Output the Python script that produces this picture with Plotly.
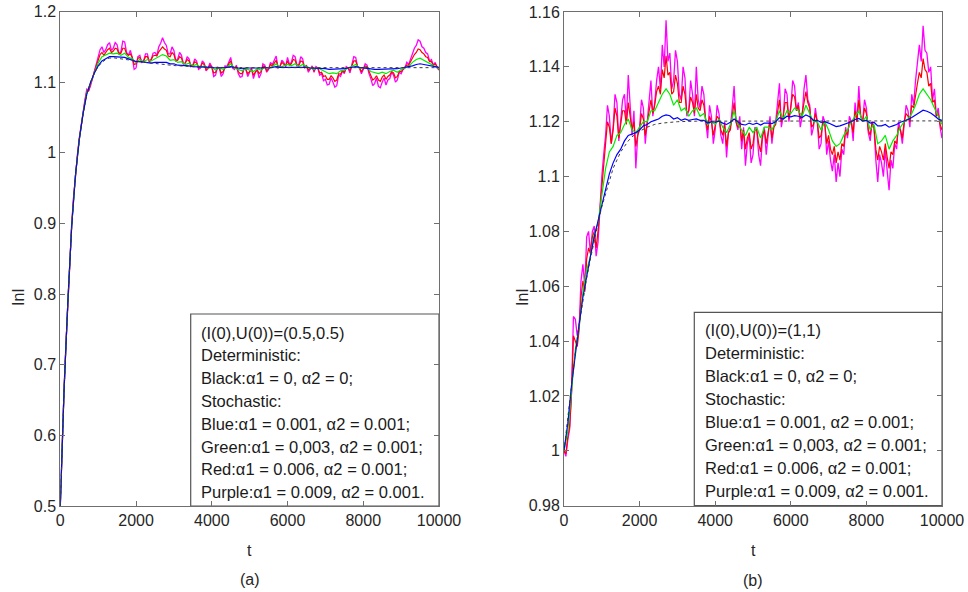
import plotly.graph_objects as go

# ---------------- data ----------------
t_grid = list(range(0, 10001, 100))     # green / blue samples
t_fine = list(range(0, 10001, 50))      # purple / red samples (noisier)

# Panel (a): (I(0),U(0)) = (0.5,0.5)
a_black_t = [0, 100, 200, 300, 400, 500, 600, 700, 800, 900, 1000, 1100, 1200, 1300, 1400,
             1600, 1800, 2000, 2500, 3000, 3500, 4000, 5000, 10000]
a_black = [0.5, 0.665, 0.79, 0.895, 0.968, 1.018, 1.055, 1.082, 1.1, 1.113, 1.122, 1.128, 1.132, 1.134, 1.1345,
           1.1335, 1.1315, 1.1295, 1.126, 1.1235, 1.122, 1.121, 1.1205, 1.1205]

a_purple = [0.5, 0.59, 0.667, 0.73, 0.792, 0.846, 0.898, 0.937, 0.97, 0.996, 1.02, 1.04, 1.058, 1.075, 1.09, 1.088, 1.095, 1.105, 1.115, 1.128,
            1.135, 1.146, 1.15, 1.142, 1.146, 1.153, 1.156, 1.145, 1.148, 1.156, 1.153, 1.14, 1.143, 1.158, 1.157, 1.142, 1.138, 1.145, 1.135, 1.118,
            1.12, 1.136, 1.138, 1.128, 1.13, 1.14, 1.14, 1.128, 1.132, 1.141, 1.142, 1.138, 1.15, 1.155, 1.163, 1.156, 1.152, 1.14, 1.14, 1.15,
            1.145, 1.13, 1.133, 1.142, 1.138, 1.126, 1.127, 1.136, 1.133, 1.122, 1.124, 1.133, 1.13, 1.118, 1.12, 1.13, 1.127, 1.116, 1.119, 1.127,
            1.122, 1.108, 1.11, 1.121, 1.12, 1.108, 1.112, 1.123, 1.122, 1.13, 1.135, 1.12, 1.118, 1.124, 1.112, 1.107, 1.108, 1.12, 1.118, 1.108,
            1.113, 1.12, 1.105, 1.114, 1.117, 1.106, 1.112, 1.126, 1.124, 1.114, 1.118, 1.128, 1.125, 1.132, 1.137, 1.12, 1.122, 1.131, 1.128, 1.122,
            1.135, 1.125, 1.128, 1.138, 1.136, 1.124, 1.125, 1.136, 1.133, 1.12, 1.124, 1.114, 1.118, 1.123, 1.114, 1.122, 1.12, 1.11, 1.112, 1.102,
            1.104, 1.096, 1.097, 1.106, 1.1, 1.093, 1.095, 1.11, 1.108, 1.116, 1.112, 1.122, 1.12, 1.113, 1.125, 1.136, 1.135, 1.122, 1.12, 1.112,
            1.118, 1.126, 1.124, 1.112, 1.105, 1.095, 1.098, 1.106, 1.094, 1.092, 1.1, 1.106, 1.096, 1.103, 1.105, 1.114, 1.11, 1.1, 1.103, 1.114,
            1.112, 1.118, 1.12, 1.128, 1.125, 1.133, 1.142, 1.148, 1.152, 1.16, 1.158, 1.15, 1.148, 1.142, 1.14, 1.13, 1.132, 1.124, 1.128, 1.12,
            1.117]
a_red = [0.5, 0.59, 0.666, 0.73, 0.791, 0.846, 0.897, 0.936, 0.969, 0.995, 1.019, 1.039, 1.057, 1.073, 1.087, 1.088, 1.098, 1.105, 1.115, 1.124,
         1.131, 1.139, 1.142, 1.138, 1.142, 1.146, 1.148, 1.142, 1.144, 1.148, 1.147, 1.14, 1.141, 1.148, 1.148, 1.14, 1.138, 1.14, 1.135, 1.125,
         1.126, 1.134, 1.135, 1.129, 1.13, 1.136, 1.136, 1.13, 1.132, 1.137, 1.138, 1.137, 1.143, 1.146, 1.15, 1.147, 1.145, 1.137, 1.136, 1.142,
         1.139, 1.13, 1.131, 1.136, 1.134, 1.126, 1.127, 1.132, 1.13, 1.123, 1.124, 1.129, 1.127, 1.12, 1.121, 1.127, 1.125, 1.118, 1.12, 1.124,
         1.121, 1.113, 1.114, 1.12, 1.12, 1.113, 1.115, 1.121, 1.121, 1.126, 1.13, 1.121, 1.12, 1.122, 1.115, 1.112, 1.112, 1.119, 1.118, 1.112,
         1.115, 1.118, 1.11, 1.115, 1.118, 1.112, 1.115, 1.123, 1.122, 1.116, 1.119, 1.125, 1.123, 1.127, 1.131, 1.121, 1.122, 1.128, 1.126, 1.123,
         1.13, 1.124, 1.126, 1.132, 1.131, 1.123, 1.124, 1.13, 1.129, 1.12, 1.123, 1.117, 1.119, 1.121, 1.116, 1.12, 1.12, 1.113, 1.114, 1.108,
         1.109, 1.104, 1.104, 1.109, 1.106, 1.101, 1.103, 1.112, 1.111, 1.116, 1.114, 1.12, 1.12, 1.116, 1.123, 1.13, 1.13, 1.122, 1.12, 1.115,
         1.119, 1.123, 1.122, 1.115, 1.109, 1.103, 1.105, 1.109, 1.103, 1.101, 1.107, 1.11, 1.104, 1.108, 1.11, 1.115, 1.113, 1.106, 1.108, 1.115,
         1.115, 1.118, 1.12, 1.124, 1.124, 1.129, 1.135, 1.139, 1.142, 1.147, 1.146, 1.142, 1.14, 1.136, 1.135, 1.129, 1.129, 1.124, 1.126, 1.121,
         1.118]
a_green = [0.5, 0.666, 0.79, 0.896, 0.968, 1.018, 1.056, 1.085, 1.099, 1.114,
           1.127, 1.136, 1.138, 1.141, 1.14, 1.141, 1.138, 1.141, 1.135, 1.133,
           1.128, 1.132, 1.129, 1.132, 1.13, 1.133, 1.136, 1.139, 1.137, 1.131,
           1.132, 1.128, 1.129, 1.125, 1.127, 1.123, 1.125, 1.121, 1.123, 1.12,
           1.121, 1.117, 1.12, 1.118, 1.121, 1.126, 1.12, 1.118, 1.116, 1.119,
           1.117, 1.115, 1.119, 1.117, 1.121, 1.12, 1.122, 1.126, 1.121, 1.123,
           1.125, 1.123, 1.126, 1.122, 1.125, 1.122, 1.12, 1.118, 1.12, 1.117,
           1.115, 1.112, 1.113, 1.112, 1.116, 1.117, 1.12, 1.122, 1.125, 1.12,
           1.12, 1.121, 1.115, 1.113, 1.112, 1.114, 1.112, 1.115, 1.117, 1.114,
           1.118, 1.12, 1.122, 1.128, 1.132, 1.134, 1.131, 1.128, 1.125, 1.123,
           1.119]
a_blue = [0.5, 0.665, 0.79, 0.895, 0.968, 1.018, 1.055, 1.083, 1.1, 1.113,
          1.123, 1.13, 1.133, 1.136, 1.136, 1.136, 1.135, 1.135, 1.133, 1.131,
          1.129, 1.129, 1.128, 1.128, 1.127, 1.128, 1.128, 1.129, 1.128, 1.126,
          1.126, 1.124, 1.124, 1.123, 1.123, 1.122, 1.122, 1.121, 1.122, 1.121,
          1.121, 1.12, 1.12, 1.12, 1.121, 1.122, 1.121, 1.12, 1.119, 1.12,
          1.12, 1.119, 1.12, 1.12, 1.121, 1.12, 1.121, 1.122, 1.121, 1.121,
          1.122, 1.121, 1.122, 1.121, 1.122, 1.121, 1.12, 1.12, 1.12, 1.119,
          1.119, 1.118, 1.118, 1.118, 1.119, 1.119, 1.12, 1.121, 1.122, 1.121,
          1.12, 1.12, 1.119, 1.118, 1.118, 1.118, 1.118, 1.119, 1.119, 1.119,
          1.12, 1.121, 1.121, 1.123, 1.125, 1.126, 1.125, 1.124, 1.123, 1.122,
          1.121]

# Panel (b): (I(0),U(0)) = (1,1)
b_black_t = [0, 100, 200, 300, 400, 500, 600, 700, 800, 900, 1000, 1100, 1200, 1300, 1400,
             1500, 1600, 1700, 1800, 1900, 2000, 2200, 2400, 2600, 2800, 3000, 3500, 10000]
b_black = [1.0, 1.012, 1.025, 1.036, 1.046, 1.055, 1.063, 1.07, 1.077, 1.083, 1.089, 1.094, 1.099, 1.103, 1.106,
           1.109, 1.111, 1.113, 1.1145, 1.1155, 1.1165, 1.118, 1.119, 1.1195, 1.1198, 1.12, 1.1202, 1.1203]

b_purple = [1.0, 0.998, 1.004, 1.008, 1.022, 1.049, 1.048, 1.042, 1.045, 1.062, 1.068, 1.06, 1.078, 1.08, 1.072, 1.08, 1.082, 1.071, 1.076, 1.09,
            1.1, 1.108, 1.115, 1.126, 1.122, 1.112, 1.118, 1.13, 1.127, 1.113, 1.12, 1.128, 1.13, 1.12, 1.137, 1.125, 1.115, 1.124, 1.103, 1.115,
            1.118, 1.128, 1.125, 1.112, 1.12, 1.13, 1.135, 1.122, 1.127, 1.135, 1.14, 1.132, 1.148, 1.14, 1.157, 1.142, 1.145, 1.132, 1.135, 1.146,
            1.142, 1.13, 1.128, 1.14, 1.136, 1.122, 1.124, 1.135, 1.13, 1.122, 1.14, 1.128, 1.125, 1.133, 1.13, 1.12, 1.114, 1.126, 1.122, 1.112,
            1.117, 1.126, 1.123, 1.115, 1.112, 1.12, 1.107, 1.116, 1.118, 1.125, 1.133, 1.12, 1.117, 1.122, 1.11, 1.118, 1.104, 1.112, 1.115, 1.105,
            1.108, 1.118, 1.117, 1.108, 1.104, 1.114, 1.118, 1.108, 1.115, 1.122, 1.112, 1.118, 1.12, 1.128, 1.134, 1.118, 1.122, 1.132, 1.13, 1.12,
            1.125, 1.135, 1.133, 1.124, 1.127, 1.118, 1.122, 1.132, 1.137, 1.128, 1.126, 1.115, 1.118, 1.125, 1.12, 1.11, 1.112, 1.122, 1.12, 1.108,
            1.113, 1.106, 1.102, 1.108, 1.098, 1.105, 1.1, 1.11, 1.108, 1.118, 1.114, 1.122, 1.12, 1.113, 1.127, 1.12, 1.133, 1.122, 1.12, 1.128,
            1.125, 1.116, 1.113, 1.12, 1.118, 1.106, 1.098, 1.108, 1.105, 1.1, 1.11, 1.102, 1.095, 1.106, 1.103, 1.112, 1.11, 1.12, 1.117, 1.112,
            1.12, 1.126, 1.124, 1.118, 1.13, 1.126, 1.135, 1.142, 1.148, 1.142, 1.155, 1.146, 1.145, 1.138, 1.14, 1.128, 1.132, 1.122, 1.125, 1.118,
            1.114]
b_red = [1.0, 0.999, 1.005, 1.009, 1.021, 1.042, 1.04, 1.038, 1.044, 1.056, 1.062, 1.058, 1.07, 1.074, 1.072, 1.078, 1.08, 1.074, 1.08, 1.088,
         1.098, 1.105, 1.112, 1.12, 1.118, 1.112, 1.117, 1.125, 1.122, 1.114, 1.119, 1.124, 1.124, 1.119, 1.127, 1.121, 1.117, 1.12, 1.111, 1.115,
         1.117, 1.123, 1.121, 1.115, 1.12, 1.125, 1.128, 1.123, 1.126, 1.131, 1.133, 1.13, 1.139, 1.136, 1.144, 1.137, 1.138, 1.13, 1.131, 1.137,
         1.134, 1.127, 1.127, 1.133, 1.13, 1.123, 1.124, 1.129, 1.127, 1.123, 1.13, 1.125, 1.124, 1.128, 1.126, 1.12, 1.117, 1.122, 1.12, 1.115,
         1.118, 1.122, 1.121, 1.117, 1.115, 1.119, 1.111, 1.116, 1.117, 1.122, 1.127, 1.12, 1.118, 1.12, 1.113, 1.117, 1.11, 1.114, 1.116, 1.11,
         1.112, 1.117, 1.117, 1.112, 1.109, 1.115, 1.117, 1.112, 1.116, 1.12, 1.114, 1.118, 1.119, 1.124, 1.128, 1.12, 1.122, 1.127, 1.127, 1.121,
         1.125, 1.13, 1.129, 1.124, 1.126, 1.121, 1.123, 1.128, 1.131, 1.127, 1.125, 1.118, 1.119, 1.123, 1.12, 1.114, 1.115, 1.12, 1.119, 1.112,
         1.115, 1.11, 1.108, 1.111, 1.105, 1.109, 1.106, 1.112, 1.111, 1.117, 1.115, 1.12, 1.12, 1.116, 1.124, 1.12, 1.128, 1.122, 1.12, 1.125,
         1.123, 1.117, 1.115, 1.12, 1.118, 1.11, 1.106, 1.111, 1.109, 1.106, 1.112, 1.107, 1.103, 1.109, 1.108, 1.113, 1.112, 1.118, 1.117, 1.114,
         1.12, 1.123, 1.122, 1.12, 1.126, 1.125, 1.13, 1.134, 1.138, 1.136, 1.143, 1.139, 1.138, 1.133, 1.134, 1.127, 1.128, 1.122, 1.123, 1.119,
         1.117]
b_green = [1.0, 1.007, 1.022, 1.037, 1.045, 1.058, 1.066, 1.071, 1.079, 1.083,
           1.093, 1.103, 1.109, 1.111, 1.115, 1.116, 1.119, 1.121, 1.117, 1.116,
           1.118, 1.12, 1.12, 1.124, 1.124, 1.127, 1.13, 1.132, 1.13, 1.126,
           1.128, 1.124, 1.125, 1.122, 1.124, 1.125, 1.122, 1.123, 1.119, 1.12,
           1.119, 1.121, 1.118, 1.116, 1.119, 1.124, 1.119, 1.117, 1.115, 1.118,
           1.116, 1.118, 1.114, 1.118, 1.118, 1.117, 1.12, 1.124, 1.121, 1.124,
           1.123, 1.125, 1.124, 1.122, 1.126, 1.123, 1.12, 1.12, 1.117, 1.12,
           1.117, 1.113, 1.111, 1.112, 1.115, 1.117, 1.12, 1.122, 1.124, 1.12,
           1.122, 1.117, 1.119, 1.112, 1.113, 1.115, 1.11, 1.113, 1.115, 1.118,
           1.12, 1.121, 1.123, 1.126, 1.13, 1.132, 1.13, 1.128, 1.125, 1.122,
           1.119]
b_blue = [1.0, 1.01, 1.024, 1.036, 1.046, 1.056, 1.064, 1.071, 1.078, 1.084,
          1.09, 1.096, 1.101, 1.105, 1.108, 1.11, 1.113, 1.115, 1.1155, 1.116,
          1.117, 1.1185, 1.119, 1.12, 1.1205, 1.121, 1.122, 1.1225, 1.1222, 1.121,
          1.1215, 1.1205, 1.121, 1.1205, 1.1208, 1.121, 1.1205, 1.1205, 1.1195, 1.12,
          1.1198, 1.1202, 1.1195, 1.119, 1.1198, 1.121, 1.12, 1.119, 1.1188, 1.1195,
          1.119, 1.1195, 1.1188, 1.1195, 1.1195, 1.1193, 1.12, 1.1215, 1.121, 1.122,
          1.1218, 1.1222, 1.122, 1.1215, 1.1225, 1.1218, 1.1205, 1.1205, 1.1198, 1.12,
          1.1195, 1.1188, 1.1182, 1.1185, 1.119, 1.1195, 1.12, 1.1208, 1.1212, 1.1203,
          1.1205, 1.1195, 1.1198, 1.1185, 1.1185, 1.119, 1.118, 1.1185, 1.119, 1.1198,
          1.1202, 1.1208, 1.1215, 1.1225, 1.1235, 1.1242, 1.1238, 1.1232, 1.1222, 1.121,
          1.1205]

x_ticks = [0, 2000, 4000, 6000, 8000, 10000]
x_labels = ["0", "2000", "4000", "6000", "8000", "10000"]
a_yticks = [0.5, 0.6, 0.7, 0.8, 0.9, 1.0, 1.1, 1.2]
a_ylabels = ["0.5", "0.6", "0.7", "0.8", "0.9", "1", "1.1", "1.2"]
b_yticks = [0.98, 1.0, 1.02, 1.04, 1.06, 1.08, 1.1, 1.12, 1.14, 1.16]
b_ylabels = ["0.98", "1", "1.02", "1.04", "1.06", "1.08", "1.1", "1.12", "1.14", "1.16"]

legend_a = ["(I(0),U(0))=(0.5,0.5)", "Deterministic:", "Black:\u03b11 = 0, \u03b12 = 0;", "Stochastic:",
            "Blue:\u03b11 = 0.001, \u03b12 = 0.001;", "Green:\u03b11 = 0,003, \u03b12 = 0.001;",
            "Red:\u03b11 = 0.006, \u03b12 = 0.001;", "Purple:\u03b11 = 0.009, \u03b12 = 0.001."]
legend_b = ["(I(0),U(0))=(1,1)"] + legend_a[1:]

# ---------------- figure ----------------
W, H = 968, 592
FONT = "Liberation Sans, Arial, sans-serif"
TXT = "#262626"
AX = "#6f6f6f"

fig = go.Figure()

def add_panel(xa, ya, purple, red, green, blue, bt, bk):
    for tt, vals, c, w in [(t_fine, purple, "#ff00ff", 1.3), (t_fine, red, "#ff0000", 1.2),
                           (t_grid, green, "#00ee00", 1.2), (t_grid, blue, "#0000ff", 1.2)]:
        fig.add_trace(go.Scatter(x=tt, y=vals, mode="lines", xaxis=xa, yaxis=ya,
                                 line=dict(color=c, width=w), showlegend=False,
                                 hoverinfo="skip"))
    fig.add_trace(go.Scatter(x=bt, y=bk, mode="lines", xaxis=xa, yaxis=ya,
                             line=dict(color="#3a3a3a", width=1, dash="dot"),
                             showlegend=False, hoverinfo="skip"))

add_panel("x", "y", a_purple, a_red, a_green, a_blue, a_black_t, a_black)
add_panel("x2", "y2", b_purple, b_red, b_green, b_blue, b_black_t, b_black)

def px_x(p):
    return p / W

def px_y(p):
    return 1 - p / H

axis_common = dict(showline=True, linecolor=AX, linewidth=1, mirror="ticks",
                   ticks="inside", ticklen=5, tickcolor=AX, showgrid=False,
                   zeroline=False, automargin=False, ticklabeloverflow="allow",
                   tickfont=dict(family=FONT, size=16, color=TXT))

fig.update_layout(
    width=W, height=H, margin=dict(l=0, r=0, t=0, b=0, pad=0, autoexpand=False),
    paper_bgcolor="white", plot_bgcolor="white", showlegend=False,
    xaxis=dict(domain=[px_x(60.3), px_x(439)], range=[0, 10000], tickvals=x_ticks,
               ticktext=x_labels, anchor="y", **axis_common),
    yaxis=dict(domain=[px_y(506), px_y(11.5)], range=[0.5, 1.2], tickvals=a_yticks,
               ticktext=a_ylabels, anchor="x", **axis_common),
    xaxis2=dict(domain=[px_x(564), px_x(942)], range=[0, 10000], tickvals=x_ticks,
                ticktext=x_labels, anchor="y2", **axis_common),
    yaxis2=dict(domain=[px_y(505.7), px_y(12)], range=[0.98, 1.16], tickvals=b_yticks,
                ticktext=b_ylabels, anchor="x2", **axis_common),
)

shapes = []
annotations = []

def legend_box(x0, y0, x1, y1, lines, tx, ty0, dy):
    shapes.append(dict(type="rect", xref="paper", yref="paper",
                       x0=px_x(x0), x1=px_x(x1), y0=px_y(y1), y1=px_y(y0),
                       line=dict(color="#555555", width=1.2), fillcolor="white", layer="below"))
    for i, s in enumerate(lines):
        annotations.append(dict(text=s, xref="paper", yref="paper", x=px_x(tx), y=px_y(ty0 + i * dy),
                                xanchor="left", yanchor="middle", showarrow=False,
                                font=dict(family=FONT, size=16.5, color="#1a1a1a")))

legend_box(190.7, 314, 439, 506, legend_a, 199, 332.5, 22.8)
legend_box(694.3, 312.3, 942, 505.7, legend_b, 703, 329.5, 23.1)

def label(s, x, y, angle=0):
    annotations.append(dict(text=s, xref="paper", yref="paper", x=px_x(x), y=px_y(y),
                            xanchor="center", yanchor="middle", showarrow=False, textangle=angle,
                            font=dict(family=FONT, size=16, color=TXT)))

label("t", 250, 550)
label("t", 753, 550)
label("(a)", 250, 579)
label("(b)", 753, 580)
label("InI", 18, 297, -90)
label("InI", 522, 297, -90)

fig.update_layout(shapes=shapes, annotations=annotations)

# remove the default page margin so the figure fills the window from its top-left corner
fig.write_html("out.html", config={"displayModeBar": False},
               post_script="document.body.style.margin='0px';document.body.style.overflow='hidden';")
